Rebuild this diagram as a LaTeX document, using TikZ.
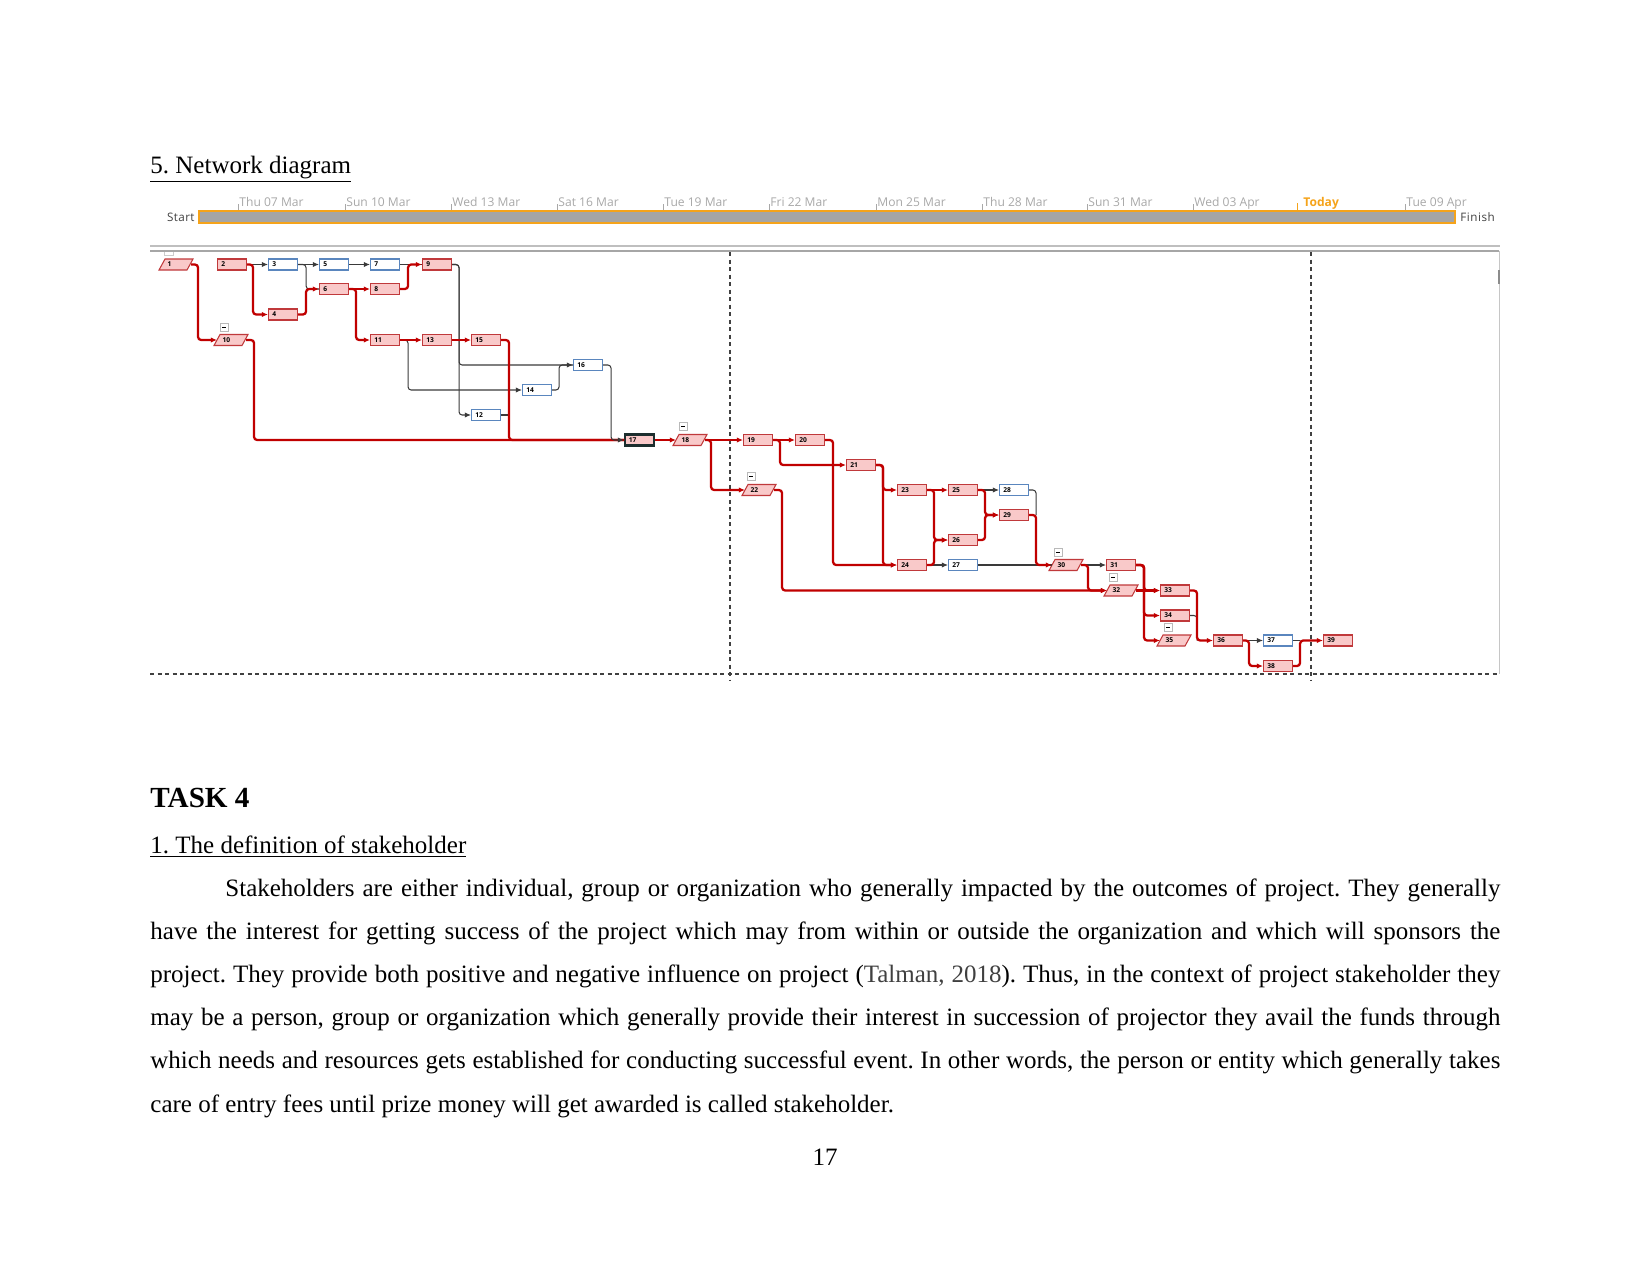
\documentclass[tikz,border=0pt]{standalone}
\usepackage{fontspec}
\setmainfont{Liberation Serif}
\newfontfamily\uifont{Open Sans}
\usetikzlibrary{arrows.meta}
\definecolor{cred}{HTML}{C00000}
\definecolor{bred}{HTML}{C0393B}
\definecolor{fpink}{HTML}{F9C9C9}
\definecolor{bblue}{HTML}{5A86BE}
\definecolor{cgray}{HTML}{3A3A3A}
\definecolor{tgray}{HTML}{A8A8A8}
\definecolor{barorange}{HTML}{F5A31A}
\definecolor{bargray}{HTML}{A5A5A5}
\definecolor{dgray}{HTML}{404040}
\definecolor{sdark}{HTML}{1C2E2E}
\newcommand{\nd}[4]{\node[#4] (n#1) at (#2,#3) {#1};}
\newcommand{\pnode}[3]{%
  \filldraw[draw=bred, fill=fpink, line width=0.5pt] ({#2+6},{#3-5.5}) -- ({#2+34},{#3-5.5}) -- ({#2+28},{#3+5.5}) -- (#2,{#3+5.5}) -- cycle;
  \node[pbox] (n#1) at ({#2+3},#3) {#1};}
\newcommand{\cbox}[2]{%
  \draw[gray!55, fill=white, line width=0.3pt] (#1,#2) rectangle ++(8,8);
  \draw[black, line width=0.45pt] ({#1+2},{#2+4}) -- ({#1+6},{#2+4});}
\frenchspacing
\begin{document}
\frenchspacing
\begin{tikzpicture}[x=0.48pt,y=-0.48pt,
  box/.style={rectangle, anchor=west, minimum height=5.28pt, inner ysep=0pt, inner xsep=1.8pt, text width=10.32pt, align=left, font=\uifont\fontsize{3.2}{3.4}\selectfont\bfseries, line width=0.5pt},
  rbox/.style={box, draw=bred, fill=fpink},
  bbox/.style={box, draw=bblue, fill=white},
  sbox/.style={box, draw=sdark, fill=fpink, line width=1.1pt},
  pbox/.style={box, inner xsep=2.4pt, text width=8.64pt},
  rline/.style={draw=cred, line width=1.1pt, rounded corners=1.5pt},
  ra/.style={rline, -{Latex[length=3pt,width=2.6pt]}},
  kline/.style={draw=cgray, line width=0.5pt, rounded corners=1.5pt},
  ka/.style={kline, -{Latex[length=3pt,width=2.6pt]}},
  tl/.style={anchor=base west, inner sep=0pt, text=tgray, font=\uifont\fontsize{5.8}{6}\selectfont},
  sf/.style={inner sep=0pt, text=dgray, font=\uifont\fontsize{5.6}{6}\selectfont},
  body/.style={anchor=base west, inner sep=0pt, font=\fontsize{12}{14}\selectfont\frenchspacing}
]
\useasboundingbox (0,0) rectangle (1650,1275);

% heading
\node[body] (h1) at (150,173) {\underline{5. Network diagram}};

% timeline
\node[sf, anchor=base east] (start) at (195,221) {S\kern0.2pt t\kern0.2pt a\kern0.2pt r\kern0.2pt t};
\draw[fill=bargray, draw=barorange, line width=1.1pt] (199,211) rectangle (1455,223);
\node[sf, anchor=base west] (finish) at (1460,221) {F\kern0.25pt i\kern0.25pt n\kern0.25pt i\kern0.25pt s\kern0.25pt h};
\foreach \x/\t in {238/Thu 07 Mar, 345/Sun 10 Mar, 451/Wed 13 Mar, 557/Sat 16 Mar, 663/Tue 19 Mar, 769/Fri 22 Mar, 876/Mon 25 Mar, 982/Thu 28 Mar, 1087/Sun 31 Mar, 1193/Wed 03 Apr, 1405/Tue 09 Apr}{
  \draw[tgray, line width=0.4pt] (\x,204) -- (\x,210);
  \node[tl] at ({\x+1},206) {\t};
}
\draw[barorange, line width=0.5pt] (1297,203) -- (1297,210);
\node[tl, text=barorange, font=\uifont\fontsize{5.8}{6}\selectfont\bfseries] (today) at (1303,206) {Today};

% frame lines
\draw[gray!50, line width=0.5pt] (150,246) -- (1500,246);
\draw[gray!70, line width=0.5pt] (150,251) -- (1499,251);
\draw[gray!45, line width=0.5pt] (1499,251) -- (1499,674);
\draw[gray!90, line width=0.6pt] (1499,270) -- (1499,284);
\draw[gray!40, line width=0.3pt] (164,252) -- (164,255) -- (173,255) -- (173,252);
\draw[black!75, line width=0.6pt, dash pattern=on 2pt off 1.6pt] (150,674) -- (1500,674);
\draw[black!75, line width=0.6pt, dash pattern=on 2pt off 1.6pt] (730,252) -- (730,680);
\draw[black!75, line width=0.6pt, dash pattern=on 2pt off 1.6pt] (1311,252) -- (1311,680);

% nodes
\pnode{1}{159}{264.5}
\nd{2}{217}{264.5}{rbox}
\nd{3}{268}{264.5}{bbox}
\nd{5}{319}{264.5}{bbox}
\nd{7}{370}{264.5}{bbox}
\nd{9}{422}{264.5}{rbox}
\nd{6}{319}{289}{rbox}
\nd{8}{370}{289}{rbox}
\nd{4}{268}{314.5}{rbox}
\pnode{10}{214}{340}
\nd{11}{370}{340}{rbox}
\nd{13}{422}{340}{rbox}
\nd{15}{471}{340}{rbox}
\nd{16}{573}{365}{bbox}
\nd{14}{522}{390}{bbox}
\nd{12}{471}{415}{bbox}
\nd{17}{624}{440}{sbox}
\pnode{18}{673}{440}
\nd{19}{743}{440}{rbox}
\nd{20}{795}{440}{rbox}
\nd{21}{846}{465}{rbox}
\pnode{22}{742}{490}
\nd{23}{897}{490}{rbox}
\nd{25}{948}{490}{rbox}
\nd{28}{999}{490}{bbox}
\nd{29}{999}{515}{rbox}
\nd{26}{948}{540}{rbox}
\nd{24}{897}{565}{rbox}
\nd{27}{948}{565}{bbox}
\pnode{30}{1049}{565}
\nd{31}{1106}{565}{rbox}
\pnode{32}{1104}{590.5}
\nd{33}{1160}{590.5}{rbox}
\nd{34}{1160}{615.5}{rbox}
\pnode{35}{1157}{640.5}
\nd{36}{1213}{640.5}{rbox}
\nd{37}{1263}{640.5}{bbox}
\nd{38}{1263}{666}{rbox}
\nd{39}{1323}{640.5}{rbox}

% collapse boxes
\cbox{220}{323}
\cbox{679}{422}
\cbox{747}{472}
\cbox{1054}{548}
\cbox{1109}{573}
\cbox{1164}{623}

% non-critical links
\draw[ka] (n2.east) -- (n3.west);
\draw[kline] (n3.east) -- ++(8,0) |- (n6.west);
\draw[ka] (n3.east) -- (n5.west);
\draw[ka] (n5.east) -- (n7.west);
\draw[kline] (n7.east) -- (n9.west);
\draw[ka] (n11.east) -- ++(8,0) |- (n14.west);
\draw[ka] (n9.east) -- ++(7,0) |- (n12.west);
\draw[ka] (n9.east) -- ++(7,0) |- (n16.west);
\draw[kline] (n12.east) -- ++(8,0);
\draw[kline] (n14.east) -- ++(7,0) |- (n16.west);
\draw[ka] (n24.east) -- (n27.west);
\draw[ka] (n25.east) -- (n28.west);
\draw[kline] (n28.east) -- ++(7,0) -- ++(0,25);
\draw[kline] (n27.east) -- (n30.west);
\draw[ka] (n30.east) -- (n31.west);
\draw[kline] (n34.east) -- ++(7,0) -- ++(0,25);
\draw[ka] (n36.east) -- (n37.west);
\draw[kline] (n37.east) -- ++(7,0);

% critical links
\draw[ra] (n1.east) -- ++(7,0) |- (n10.west);
\draw[rline] (n10.east) -- ++(8,0) |- (n17.west);
\draw[ra] (n2.east) -- ++(6,0) |- (n4.west);
\draw[ra] (n4.east) -- ++(8,0) |- (n6.west);
\draw[ra] (n6.east) -- (n8.west);
\draw[ra] (n6.east) -- ++(7,0) |- (n11.west);
\draw[ra] (n8.east) -- ++(8,0) |- (n9.west);
\draw[ra] (n11.east) -- (n13.west);
\draw[ra] (n13.east) -- (n15.west);
\draw[rline] (n15.east) -- ++(8,0) |- (n17.west);
\draw[ka] (n16.east) -- ++(8,0) |- (n17.west);
\draw[ra] (n17.east) -- (n18.west);
\draw[ra] (n18.east) -- (n19.west);
\draw[ra] (n18.east) -- ++(6,0) |- (n22.west);
\draw[ra] (n19.east) -- (n20.west);
\draw[ra] (n19.east) -- ++(7,0) |- (n21.west);
\draw[ra] (n20.east) -- ++(8,0) |- (n24.west);
\draw[ra] (n21.east) -- ++(7,0) |- (n23.west);
\draw[ra] (n21.east) -- ++(7,0) |- (n24.west);
\draw[ra] (n22.east) -- ++(8,0) |- (n32.west);
\draw[ra] (n23.east) -- (n25.west);
\draw[ra] (n23.east) -- ++(7,0) |- (n26.west);
\draw[ra] (n24.east) -- ++(7,0) |- (n26.west);
\draw[ra] (n25.east) -- ++(7,0) |- (n29.west);
\draw[ra] (n26.east) -- ++(7,0) |- (n29.west);
\draw[ra] (n29.east) -- ++(7,0) |- (n30.west);
\draw[ra] (n30.east) -- ++(7,0) |- (n32.west);
\draw[ra] (n31.east) -- ++(8,0) |- (n33.west);
\draw[ra] (n31.east) -- ++(8,0) |- (n34.west);
\draw[ra] (n31.east) -- ++(8,0) |- (n35.west);
\draw[ra] (n32.east) -- (n33.west);
\draw[ra] (n33.east) -- ++(7,0) |- (n36.west);
\draw[ra] (n36.east) -- ++(6,0) |- (n38.west);
\draw[ra] (n38.east) -- ++(7,0) |- (n39.west);

% text
\node[anchor=base west, inner sep=0pt, font=\fontsize{14}{16}\selectfont\bfseries] (task) at (150,807) {TASK 4};
\node[body] (h2) at (150,853) {\underline{1. The definition of stakeholder}};
\node[body] (p1) at (150,896.5) {\hbox to 648pt{\hspace*{36pt}Stakeholders are either individual, group or organization who generally impacted by the outcomes of project. They generally}};
\node[body] (p2) at (150,939.6) {\hbox to 648pt{have the interest for getting success of the project which may from within or outside the organization and which will sponsors the}};
\node[body] (p3) at (150,982.7) {\hbox to 648pt{project. They provide both positive and negative influence on project ({\color{dgray}Talman, 2018}). Thus, in the context of project stakeholder they}};
\node[body] (p4) at (150,1025.8) {\hbox to 648pt{may be a person, group or organization which generally provide their interest in succession of projector they avail the funds through}};
\node[body] (p5) at (150,1068.9) {\hbox to 648pt{which needs and resources gets established for conducting successful event. In other words, the person or entity which generally takes}};
\node[body] (p6) at (150,1112) {care of entry fees until prize money will get awarded is called stakeholder.};
\node[anchor=base, inner sep=0pt, font=\fontsize{12}{14}\selectfont] (pg) at (825,1165) {17};
\end{tikzpicture}
\end{document}
